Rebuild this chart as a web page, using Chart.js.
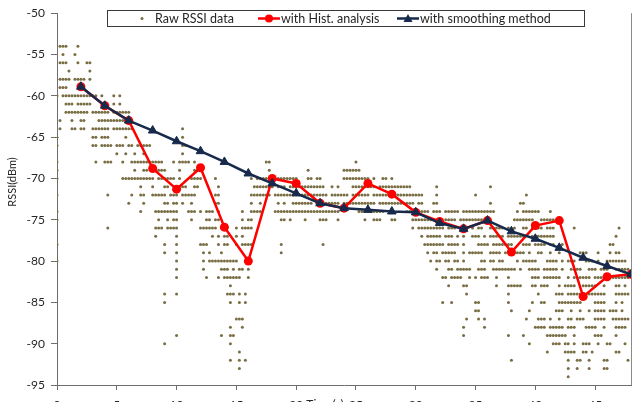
<!DOCTYPE html>
<html>
<head>
<meta charset="utf-8">
<script src="https://cdn.jsdelivr.net/npm/chart.js@4.4.1/dist/chart.umd.min.js"></script>
<style>
  html, body { margin: 0; padding: 0; overflow: hidden; background: #fff; }
  #wrap { width: 642px; height: 402px; overflow: hidden; }
</style>
</head>
<body>
<div id="wrap"><canvas id="rssiChart" width="642" height="420"></canvas></div>
<script>
// ==================== DATOS ====================
// Tiempos (s) de las dos curvas procesadas
const tiempos = [2, 4, 6, 8, 10, 12, 14, 16, 18, 20, 22, 24, 26, 28, 30, 32, 34, 36, 38, 40, 42, 44, 46, 48];
const histRSSI = [-58.9, -61.2, -63.0, -68.8, -71.3, -68.7, -75.9, -80.0, -70.0, -70.6, -73.0, -73.6,
                  -70.6, -71.9, -74.1, -75.2, -76.1, -75.1, -78.9, -75.7, -75.1, -84.3, -81.9, -81.6];
const smoothRSSI = [-58.9, -61.2, -63.0, -64.2, -65.5, -66.7, -68.0, -69.4, -70.6, -71.8, -73.0, -73.6,
                    -73.8, -74.0, -74.1, -75.4, -76.1, -75.1, -76.4, -77.3, -78.4, -79.6, -80.6, -81.6];

const xTicks = [0, 5, 10, 15, 20, 25, 30, 35, 40, 45];
const yTicks = [-95, -90, -85, -80, -75, -70, -65, -60, -55, -50];

// RSSI crudo: una fila por nivel (dBm). Cada fila tiene 5 bloques separados por '|',
// cada bloque cubre 39 muestras de 0.25 s; se listan las muestras (índice local) con punto.
const rawLevels = [-54, -55, -56, -57, -58, -59, -60, -61, -62, -63, -64, -65, -66, -67,
                   -68, -69, -70, -71, -72, -73, -74, -75, -76, -77, -78, -79, -80, -81,
                   -82, -83, -84, -85, -86, -87, -88, -89, -90, -91, -92, -93, -94];
const rawRows = [
  '1-3 7',
  '2 6',
  '1-3 7 10 11',
  '4 11',
  '1-4 6-9 11',
  '1-3',
  '0 2-13 15 19 21',
  '3-5 7-11 19 21',
  '3-10 12-17 19-24',
  '1 5 8 9 14-24',
  '1 5 6 8 9 12-17 19-25|3',
  '0 12 13 15-17 23|3',
  '0 12 13 15-18 20-22 24 25 27-31|3 4',
  '20 23 26 29|3',
  '0 13 16-18 22 25-35|0 2-5 7 31 32|22',
  '0 26 29 30 32-36|2 7 8 32|6 18-23',
  '0 22-32 34-38|0 2 6-9 14 26 28-32 35-38|0-2 6 7 9 10 18-26 28 31 32 34',
  '28 32 36 37|3 4 7 8 15 27-33 35-37|0-11 14 16 21-28 30-38|0 1 10 28',
  '0 17 25 28 29 32-36 38|0 1 3-7 14 15 26-32 34-38|0-12 14-19 21-26 28-38|0-5 10 23|1',
  '24 29 36 37|0 1 3 6 14 15 26 29 35 37|1-7 9-16 18-28 30-38|0-2 4 5 9 10 28 38|0',
  '0 28 33-38|0 1 5-7 9 11-13 15 23 26-29 34-38|0-16 23-31|0-2 4-7 9-11 13-17 19-29 37|0-5 9',
  '0 34 37|0 1 6 11 12 14 15 23 25 26 36 37|0 5 10-12 16 25 28-30 34 35|2-9 13-16 18-27 36-38|0-3 6-10',
  '17 33-35 37 38|0 1 9-14 16 21 23-26||2 4-12 14-16 20 22 24 25 28-32 34 36|0 1 3-6 8-10 17 32',
  '33|1 13 15 17 18 21 23||5 7-11 13-15 17 19 22-24 26 28-32 34-38|0 3-10 31',
  '0 36|1 9-11 15 17 18 21 23-26 36|11|6-12 14-17 19 24-27 29-35|0-2 4-7 9 10 13 29 30',
  '36|1 10 12 16 36||7 9 10 12-16 19 21-25 28-31 33-38|0 2 5 6 9 12 19-21 25 29 31 32',
  '0|1 10 12-21||8 10 11 13 14 16 17 19 25 26 28 29 31 32 37|0-4 8-11 13 15-17 21-23 25 28-34',
  '|1 10 16-18 20 22 23 25||10 14 15 17-21 24-26 29-36 38|2-5 7-11 13 16-19 22-24 26-28 31-35',
  '|1 11 15 17-22 25||12 13 15-18 21 23 25-27 30 34|3-5 7-12 15 17-22 24-35',
  '|19||14 19 20 30 34-38|3 4 6-8 12 14-17 20-24 27 31 32 34',
  '36|1 18-20 22 24||20 34|5 11-13 15-20 22-27 31-35',
  '36|19 22 24||12 15 23 24 34|3 6 7 12-19 24-27 31 33',
  '|||23 24 35|2 11-13 16 19 22 24-27 29-31 33',
  '|21-23||20 24 26|1 5-7 9 12 15 16 18-20 24-27 30-35',
  '|19 23||19 26|4-7 9-13 15-17 21-24 27 31-34',
  '|1 16 19 20||19 34|0 8-14 17 24-26 31',
  '36|19|||2 10-12 14 15 17 20-22 25 28 29 34',
  '|22|||8 14-17 20 21 23 31 32',
  '|19 22 24||35|15 18 19 22 27 28 35',
  '|22|||15 18 22 27 28',
  '||||15'
];

const SEG_MUESTRAS = 39;
const PASO_S = 0.25;

// ==================== ESTILOS ====================
const ROJO  = '#ff0000';
const NAVY  = '#172a4c';
const OLIVA = '#7a6e44';
const EJE   = '#6e6e6e';
const TEXTO = '#262626';
const FUENTE = 'Lato, "Liberation Sans", sans-serif';

// ==================== PUNTOS CRUDOS ====================
function parseRaw() {
  const pts = [];
  rawRows.forEach((fila, k) => {
    fila.split('|').forEach((bloque, b) => {
      bloque.trim().split(/\s+/).filter(Boolean).forEach(tok => {
        const [a, z] = tok.split('-').map(Number);
        const fin = isNaN(z) ? a : z;
        for (let j = a; j <= fin; j++) {
          pts.push({ x: (b * SEG_MUESTRAS + j) * PASO_S, y: rawLevels[k] });
        }
      });
    });
  });
  return pts;
}

const rawPoints = parseRaw();
const histPoints = tiempos.map((t, i) => ({ x: t, y: histRSSI[i] }));
const smoothPoints = tiempos.map((t, i) => ({ x: t, y: smoothRSSI[i] }));

// ==================== DECORACION (leyenda, títulos, borde) ====================
const decoracion = {
  id: 'decoracion',
  afterDraw(chart) {
    const { ctx, chartArea } = chart;
    ctx.save();

    // borde derecho del área de trazado
    ctx.strokeStyle = '#8a8a8a';
    ctx.lineWidth = 1;
    ctx.beginPath();
    ctx.moveTo(chartArea.right + 0.5, chartArea.top);
    ctx.lineTo(chartArea.right + 0.5, chartArea.bottom);
    ctx.stroke();

    // título eje Y
    ctx.fillStyle = TEXTO;
    ctx.font = '11px ' + FUENTE;
    ctx.textAlign = 'center';
    ctx.textBaseline = 'middle';
    ctx.save();
    ctx.translate(12, 182);
    ctx.rotate(-Math.PI / 2);
    ctx.fillText('RSSI(dBm)', 0, 0);
    ctx.restore();

    // título eje X (queda en la misma línea que las etiquetas)
    ctx.font = '12px ' + FUENTE;
    ctx.textBaseline = 'top';
    ctx.fillText('Time(s)', 325, 398);

    // leyenda
    const yl = 18.5;
    ctx.fillStyle = '#fff';
    ctx.fillRect(107.5, 10.5, 477, 16);
    ctx.strokeStyle = '#3a3a3a';
    ctx.strokeRect(107.5, 10.5, 477, 16);

    const ds = chart.data.datasets;
    ctx.font = '12.5px ' + FUENTE;
    ctx.textAlign = 'left';
    ctx.textBaseline = 'middle';

    // crudo
    ctx.fillStyle = OLIVA;
    ctx.beginPath();
    ctx.arc(142, yl, 1.5, 0, Math.PI * 2);
    ctx.fill();
    ctx.fillStyle = TEXTO;
    ctx.fillText(ds[2].label, 155, yl);

    // histograma
    ctx.strokeStyle = ROJO;
    ctx.lineWidth = 2.5;
    ctx.beginPath();
    ctx.moveTo(258, yl);
    ctx.lineTo(280, yl);
    ctx.stroke();
    ctx.fillStyle = ROJO;
    ctx.beginPath();
    ctx.arc(269, yl, 4, 0, Math.PI * 2);
    ctx.fill();
    ctx.fillStyle = TEXTO;
    ctx.fillText(ds[1].label, 281, yl);

    // suavizado
    ctx.strokeStyle = NAVY;
    ctx.beginPath();
    ctx.moveTo(397, yl);
    ctx.lineTo(419, yl);
    ctx.stroke();
    ctx.fillStyle = NAVY;
    ctx.beginPath();
    ctx.moveTo(408, yl - 4.5);
    ctx.lineTo(412.5, yl + 3.5);
    ctx.lineTo(403.5, yl + 3.5);
    ctx.closePath();
    ctx.fill();
    ctx.fillStyle = TEXTO;
    ctx.fillText(ds[0].label, 420, yl);

    ctx.restore();
  }
};

// ==================== GRAFICO ====================
new Chart(document.getElementById('rssiChart'), {
  type: 'scatter',
  data: {
    datasets: [
      {
        label: 'with smoothing method',
        data: smoothPoints,
        showLine: true,
        borderColor: NAVY,
        backgroundColor: NAVY,
        borderWidth: 2.5,
        pointStyle: 'triangle',
        pointRadius: 5,
        pointBorderWidth: 1,
        order: 0
      },
      {
        label: 'with Hist. analysis',
        data: histPoints,
        showLine: true,
        borderColor: ROJO,
        backgroundColor: ROJO,
        borderWidth: 2.5,
        pointStyle: 'circle',
        pointRadius: 4.5,
        pointBorderWidth: 0,
        order: 1
      },
      {
        label: 'Raw RSSI data',
        data: rawPoints,
        backgroundColor: OLIVA,
        borderWidth: 0,
        pointRadius: 1.5,
        pointBorderWidth: 0,
        order: 2
      }
    ]
  },
  options: {
    responsive: false,
    animation: false,
    layout: { padding: { left: 0, right: 11, top: 11, bottom: 0 } },
    plugins: {
      legend: { display: false },
      tooltip: { enabled: false }
    },
    scales: {
      x: {
        type: 'linear',
        min: 0,
        max: 48,
        afterBuildTicks: (s) => { s.ticks = xTicks.map(v => ({ value: v })); },
        afterFit: (s) => { s.height = 35; },
        grid: { drawOnChartArea: false, tickLength: 5, color: EJE },
        border: { color: EJE },
        ticks: { color: TEXTO, font: { family: FUENTE, size: 12 }, padding: 8, maxRotation: 0 }
      },
      y: {
        min: -95,
        max: -50,
        afterBuildTicks: (s) => { s.ticks = yTicks.map(v => ({ value: v })); },
        afterFit: (s) => { s.width = 57; },
        grid: { drawOnChartArea: false, tickLength: 6, color: EJE },
        border: { color: EJE },
        ticks: { color: TEXTO, font: { family: FUENTE, size: 12 }, padding: 6 }
      }
    }
  },
  plugins: [decoracion]
});
</script>
</body>
</html>
